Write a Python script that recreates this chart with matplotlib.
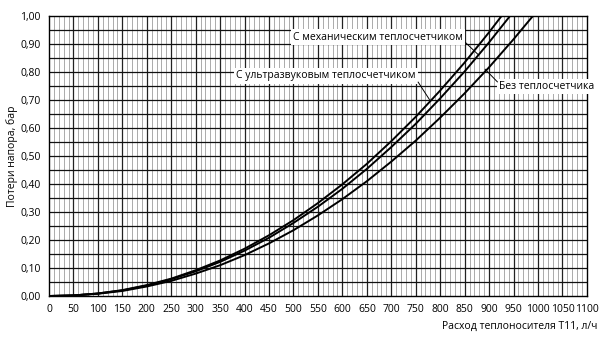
import numpy as np
import matplotlib.pyplot as plt

plt.rcParams['font.family'] = ['Open Sans', 'DejaVu Sans']

# flow, l/h
q = [0, 50, 100, 150, 200, 250, 300, 350, 400, 450, 500, 550, 600, 650, 700, 750, 800, 850, 900, 950, 1000]
# pressure loss, bar
dp_ultra = [0, 0.002, 0.009, 0.021, 0.039, 0.062, 0.092, 0.127, 0.169, 0.217, 0.271, 0.332, 0.399, 0.472, 0.553, 0.640, 0.734, 0.834, 0.942, 1.056, 1.177]
dp_mech = [0, 0.002, 0.009, 0.020, 0.037, 0.060, 0.088, 0.122, 0.162, 0.208, 0.261, 0.319, 0.383, 0.454, 0.532, 0.615, 0.706, 0.802, 0.906, 1.016, 1.132]
dp_none = [0, 0.002, 0.008, 0.018, 0.034, 0.054, 0.080, 0.110, 0.146, 0.188, 0.235, 0.288, 0.346, 0.410, 0.480, 0.555, 0.637, 0.724, 0.817, 0.917, 1.022]

x_ticks = list(range(0, 1101, 50))
y_ticks = [0.0, 0.1, 0.2, 0.3, 0.4, 0.5, 0.6, 0.7, 0.8, 0.9, 1.0]
y_labels = [('%.2f' % v).replace('.', ',') for v in y_ticks]

fig = plt.figure(figsize=(6.05, 3.42), dpi=100)
ax = fig.add_axes([0.081, 0.1345, 0.889, 0.8185])

# grid
for xv in range(10, 1100, 10):
    if xv % 50 == 0:
        ax.axvline(xv, color='#222222', lw=0.9, zorder=1)
    else:
        ax.axvline(xv, color='#8a8a8a', lw=0.5, zorder=1)
for yv in np.arange(0.05, 1.0, 0.05):
    ax.axhline(yv, color='#111111', lw=0.9, zorder=1)

ax.plot(q, dp_ultra, color='black', lw=1.4, zorder=3)
ax.plot(q, dp_mech, color='black', lw=1.4, zorder=3)
ax.plot(q, dp_none, color='black', lw=1.4, zorder=3)

# labels with leader lines
box = dict(facecolor='white', edgecolor='none', pad=1.5)
ax.text(847, 0.925, 'С механическим теплосчетчиком', fontsize=7.5, ha='right', va='center', bbox=box, zorder=5)
ax.plot([852, 878], [0.905, 0.862], color='black', lw=0.7, zorder=5)
ax.text(750, 0.786, 'С ультразвуковым теплосчетчиком', fontsize=7.5, ha='right', va='center', bbox=box, zorder=5)
ax.plot([755, 778], [0.764, 0.702], color='black', lw=0.7, zorder=5)
ax.text(920, 0.748, 'Без теплосчетчика', fontsize=7.5, ha='left', va='center', bbox=box, zorder=5)
ax.plot([917, 892], [0.765, 0.810], color='black', lw=0.7, zorder=5)

ax.set_xlim(0, 1100)
ax.set_ylim(0, 1.0)
ax.set_xticks(x_ticks)
ax.set_xticklabels([str(v) for v in x_ticks], fontsize=7.5)
ax.set_yticks(y_ticks)
ax.set_yticklabels(y_labels, fontsize=7.5)
ax.tick_params(length=0, pad=6)
for s in ax.spines.values():
    s.set_linewidth(1.0)
    s.set_zorder(4)

ax.set_ylabel('Потери напора, бар', fontsize=7.5, labelpad=2)
fig.text(0.988, 0.045, 'Расход теплоносителя Т11, л/ч', fontsize=7.5, ha='right', va='center')

plt.savefig('out.png', dpi=100)
